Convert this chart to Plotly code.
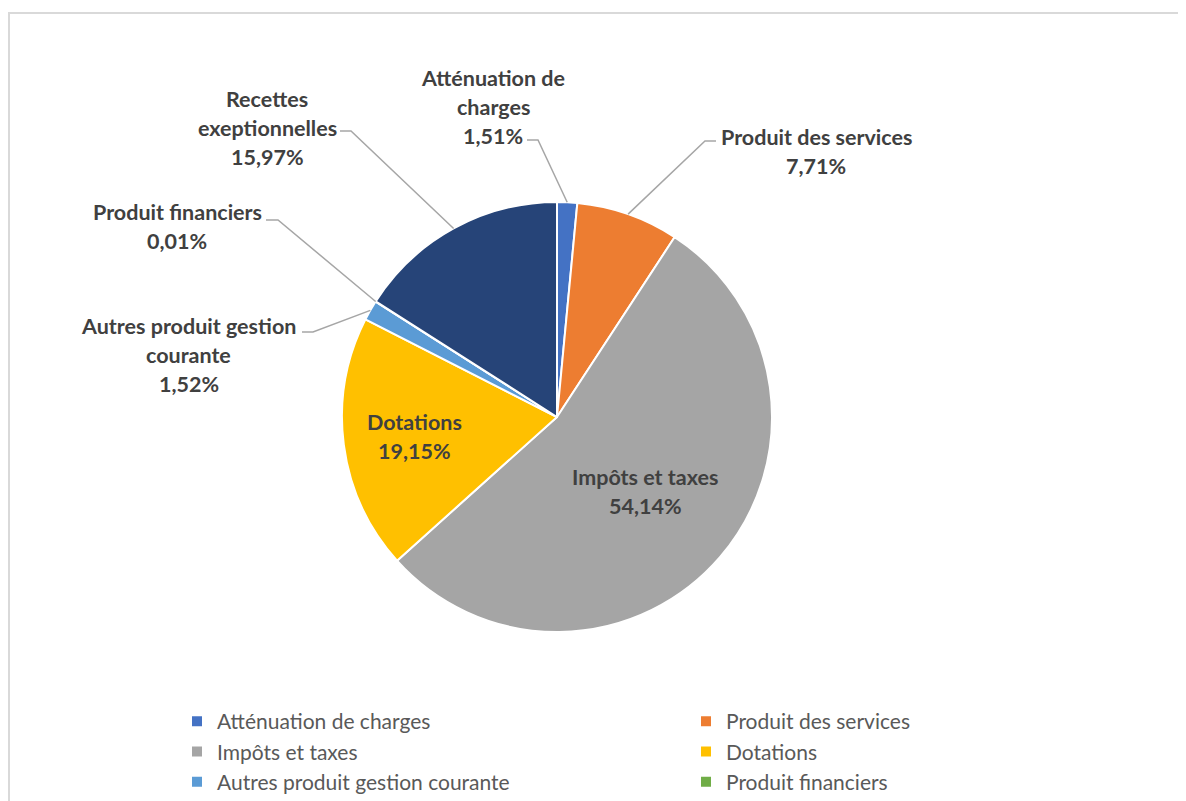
import math
import plotly.graph_objects as go

# data
categories = ["Atténuation de charges", "Produit des services", "Impôts et taxes",
              "Dotations", "Autres produit gestion courante", "Produit financiers",
              "Recettes exeptionnelles"]
shares = [1.51, 7.71, 54.14, 19.15, 1.52, 0.01, 15.97]
colors = ["#4472C4", "#ED7D31", "#A5A5A5", "#FFC000", "#5B9BD5", "#70AD47", "#264478"]

# how each data label is wrapped (Excel style)
label_lines = [["Atténuation de", "charges"], ["Produit des services"], ["Impôts et taxes"],
               ["Dotations"], ["Autres produit gestion", "courante"], ["Produit financiers"],
               ["Recettes", "exeptionnelles"]]

W, H = 1186, 801
OFF = 8  # the page body margin shifts the figure by 8px
CX, CY, R = 557, 417, 215
LINE_H = 29

# label block placement in window pixels: (center x, first line y), leader tick (x start, x end, y) or None
label_pos = [(493, 78), (816, 137), (645, 477), (415, 422), (189, 326), (177, 212), (267, 99)]
leader_tick = [(527, 538, 140), (716, 705, 141), None, None, (302, 313, 332), (266, 278, 220), (340, 351, 131)]


def px(x):
    return (x - OFF) / W


def py(y):
    return 1 - (y - OFF) / H


def pct(v):
    return ("%.2f" % v).replace(".", ",") + "%"


fig = go.Figure(go.Pie(
    labels=categories, values=shares, sort=False, direction="clockwise", rotation=0,
    marker=dict(colors=colors, line=dict(color="white", width=2)),
    textinfo="none", hoverinfo="label+percent",
    domain=dict(x=[px(CX - R), px(CX + R)], y=[py(CY + R), py(CY - R)]),
))

annotations = []
shapes = []
total = sum(shares)
cum = 0
for i, name in enumerate(categories):
    mid = (cum + shares[i] / 2) / total * 2 * math.pi
    cum += shares[i]
    lx, ly = label_pos[i]
    lines = label_lines[i] + [pct(shares[i])]
    for k, txt in enumerate(lines):
        annotations.append(dict(
            text="<b>%s</b>" % txt, x=px(lx), y=py(ly + k * LINE_H), xref="paper", yref="paper",
            xanchor="center", yanchor="middle", showarrow=False,
            font=dict(family="Lato", size=21.5, color="#404040"),
        ))
    if leader_tick[i]:
        x0, x1, ty = leader_tick[i]
        ex = CX + R * math.sin(mid)
        ey = CY - R * math.cos(mid)
        shapes.append(dict(
            type="path", xref="paper", yref="paper",
            path="M %f,%f L %f,%f L %f,%f" % (px(x0), py(ty), px(x1), py(ty), px(ex), py(ey)),
            line=dict(color="#A6A6A6", width=1.5),
        ))

# chart area border
shapes.append(dict(type="rect", xref="paper", yref="paper", x0=px(9), y0=-0.05, x1=1.05, y1=py(13),
                   line=dict(color="#D9D9D9", width=2), layer="below"))

fig.update_layout(
    width=W, height=H,
    margin=dict(l=0, r=0, t=0, b=0, autoexpand=False),
    paper_bgcolor="white", plot_bgcolor="white",
    annotations=annotations, shapes=shapes,
    showlegend=True,
    legend=dict(
        orientation="h", x=px(177), y=py(701), xanchor="left", yanchor="top",
        entrywidth=464, entrywidthmode="pixels", traceorder="normal",
        font=dict(family="Lato", size=21, color="#595959"),
        bgcolor="rgba(0,0,0,0)",
    ),
)

fig.write_html("out.html")
